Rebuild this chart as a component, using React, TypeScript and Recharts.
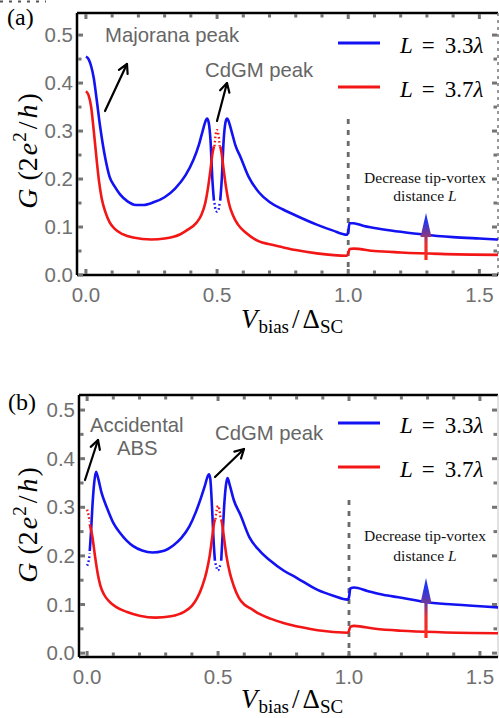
import React from "react";
import { LineChart, Line, XAxis, YAxis, ReferenceLine } from "recharts";

// ---------- tick labels ----------
const xTickValues = [0, 0.1, 0.2, 0.3, 0.4, 0.5, 0.6, 0.7, 0.8, 0.9, 1.0, 1.1, 1.2, 1.3, 1.4, 1.5];
const yTickValues = [0, 0.05, 0.1, 0.15, 0.2, 0.25, 0.3, 0.35, 0.4, 0.45, 0.5];
const seriesLabels = ["3.3", "3.7"];

// ---------- panel (a) : Majorana ----------
const aBlueLeftV = [0, 0.01, 0.02, 0.03, 0.04, 0.054, 0.075, 0.09, 0.11, 0.13, 0.16, 0.19, 0.22, 0.26, 0.3, 0.34, 0.38, 0.41, 0.43, 0.445, 0.457, 0.462, 0.468, 0.475, 0.482, 0.488];
const aBlueLeftG = [0.455, 0.45, 0.435, 0.41, 0.37, 0.31, 0.24, 0.205, 0.184, 0.168, 0.153, 0.146, 0.146, 0.152, 0.162, 0.18, 0.208, 0.24, 0.27, 0.3, 0.322, 0.326, 0.318, 0.28, 0.2, 0.155];
const aBlueDotV = [0.49, 0.494, 0.5, 0.506, 0.51];
const aBlueDotG = [0.15, 0.137, 0.132, 0.137, 0.15];
const aBlueRightV = [0.512, 0.518, 0.525, 0.532, 0.538, 0.543, 0.555, 0.57, 0.59, 0.62, 0.66, 0.7, 0.75, 0.8, 0.88, 0.94, 0.995, 1.0, 1.005, 1.02, 1.06, 1.135, 1.2, 1.29, 1.4, 1.5, 1.571];
const aBlueRightG = [0.155, 0.2, 0.28, 0.318, 0.326, 0.322, 0.3, 0.27, 0.245, 0.205, 0.172, 0.152, 0.137, 0.124, 0.105, 0.093, 0.084, 0.09, 0.108, 0.108, 0.102, 0.095, 0.09, 0.084, 0.079, 0.076, 0.074];

const aRedLeftV = [0, 0.01, 0.02, 0.03, 0.04, 0.05, 0.06, 0.075, 0.09, 0.11, 0.14, 0.18, 0.25, 0.3, 0.36, 0.39, 0.42, 0.44, 0.455, 0.465, 0.475, 0.483, 0.488];
const aRedLeftG = [0.383, 0.375, 0.35, 0.3, 0.245, 0.195, 0.16, 0.13, 0.11, 0.096, 0.085, 0.078, 0.074, 0.076, 0.085, 0.095, 0.108, 0.125, 0.15, 0.18, 0.22, 0.255, 0.268];
const aRedDotV = [0.49, 0.494, 0.5, 0.506, 0.51];
const aRedDotG = [0.268, 0.29, 0.302, 0.29, 0.268];
const aRedRightV = [0.512, 0.517, 0.525, 0.535, 0.545, 0.56, 0.58, 0.61, 0.66, 0.7, 0.75, 0.8, 0.88, 0.995, 1.0, 1.005, 1.02, 1.1, 1.2, 1.35, 1.571];
const aRedRightG = [0.268, 0.255, 0.22, 0.18, 0.15, 0.125, 0.105, 0.088, 0.07, 0.064, 0.058, 0.052, 0.045, 0.04, 0.045, 0.054, 0.055, 0.05, 0.047, 0.044, 0.042];

// ---------- panel (b) : accidental ABS ----------
const bBlueDot1V = [0, 0.006, 0.01];
const bBlueDot1G = [0.18, 0.19, 0.205];
const bBlueLeftV = [0.01, 0.015, 0.02, 0.027, 0.034, 0.042, 0.055, 0.075, 0.1, 0.126, 0.15, 0.176, 0.21, 0.25, 0.29, 0.33, 0.36, 0.39, 0.415, 0.435, 0.45, 0.458, 0.465, 0.47, 0.477, 0.483, 0.488];
const bBlueLeftG = [0.21, 0.25, 0.3, 0.35, 0.373, 0.36, 0.33, 0.3, 0.268, 0.247, 0.232, 0.22, 0.211, 0.207, 0.21, 0.222, 0.237, 0.26, 0.29, 0.32, 0.345, 0.36, 0.368, 0.36, 0.3, 0.23, 0.19];
const bBlueDot2V = [0.49, 0.495, 0.5, 0.505, 0.51];
const bBlueDot2G = [0.185, 0.175, 0.17, 0.175, 0.185];
const bBlueRightV = [0.512, 0.517, 0.523, 0.53, 0.536, 0.545, 0.56, 0.585, 0.62, 0.66, 0.7, 0.75, 0.8, 0.88, 0.94, 0.995, 1.0, 1.005, 1.02, 1.07, 1.13, 1.2, 1.29, 1.4, 1.569];
const bBlueRightG = [0.19, 0.24, 0.3, 0.345, 0.36, 0.345, 0.315, 0.285, 0.238, 0.21, 0.19, 0.17, 0.155, 0.13, 0.118, 0.11, 0.115, 0.133, 0.135, 0.128, 0.12, 0.114, 0.105, 0.1, 0.094];

const bRedDot1V = [0, 0.005, 0.01];
const bRedDot1G = [0.295, 0.285, 0.27];
const bRedLeftV = [0.01, 0.02, 0.03, 0.04, 0.05, 0.065, 0.085, 0.11, 0.15, 0.2, 0.26, 0.32, 0.37, 0.4, 0.42, 0.44, 0.455, 0.468, 0.478, 0.485, 0.488];
const bRedLeftG = [0.265, 0.24, 0.2, 0.165, 0.14, 0.12, 0.106, 0.095, 0.085, 0.077, 0.073, 0.076, 0.085, 0.097, 0.113, 0.138, 0.165, 0.2, 0.24, 0.268, 0.275];
const bRedDot2V = [0.49, 0.495, 0.5, 0.505, 0.51];
const bRedDot2G = [0.275, 0.295, 0.303, 0.295, 0.275];
const bRedRightV = [0.512, 0.515, 0.522, 0.532, 0.545, 0.56, 0.58, 0.6, 0.63, 0.66, 0.7, 0.75, 0.82, 0.88, 0.995, 1.0, 1.005, 1.02, 1.1, 1.2, 1.35, 1.569];
const bRedRightG = [0.275, 0.268, 0.24, 0.2, 0.165, 0.138, 0.113, 0.1, 0.09, 0.08, 0.071, 0.062, 0.053, 0.047, 0.042, 0.046, 0.054, 0.056, 0.05, 0.046, 0.043, 0.041];

const BLUE = "#1212f2";
const RED = "#f21616";
const TICK_GRAY = "#747474";
const SANS = "'Liberation Sans', Arial, Helvetica, sans-serif";
const SERIF = "'Liberation Serif', 'Times New Roman', serif";

type Pt = { v: number; g: number };
const zip = (v: number[], g: number[]): Pt[] => v.map((x, i) => ({ v: x, g: g[i] }));
type Seg = { data: Pt[]; color: string; dotted?: boolean };

function makeXTick(plotTop: number) {
  return (props: any) => {
    const { x, y, payload } = props;
    const v = payload.value as number;
    const major = Math.abs(v * 2 - Math.round(v * 2)) < 1e-6;
    const h = major ? 5 : 3.5;
    return (
      <g>
        <rect x={x - 1.5} y={y - 1 - h} width={3} height={h} fill={TICK_GRAY} />
        <rect x={x - 1.5} y={plotTop + 1} width={3} height={h} fill={TICK_GRAY} />
        {major && (
          <text x={x} y={y + 27} textAnchor="middle" fontFamily={SANS} fontSize={20.5} fill="#707070">
            {v.toFixed(1)}
          </text>
        )}
      </g>
    );
  };
}

function makeYTick(plotRight: number) {
  return (props: any) => {
    const { x, y, payload } = props;
    const v = payload.value as number;
    const major = Math.abs(v * 10 - Math.round(v * 10)) < 1e-6;
    const h = major ? 5 : 3.5;
    return (
      <g>
        <rect x={x + 1} y={y - 1.5} width={h} height={3} fill={TICK_GRAY} />
        <rect x={plotRight - 1 - h} y={y - 1.5} width={h} height={3} fill={TICK_GRAY} />
        {major && (
          <text x={x - 4} y={y + 7} textAnchor="end" fontFamily={SANS} fontSize={20.5} fill="#707070">
            {v.toFixed(1)}
          </text>
        )}
      </g>
    );
  };
}

function Panel(props: {
  top: number;
  height: number;
  plotTop: number;
  plotBottom: number;
  plotLeft: number;
  xDomain: [number, number];
  yDomain: [number, number];
  segs: Seg[];
  vlineTop: number;
  rightDashed: boolean;
}) {
  const { top, height, plotTop, plotBottom, plotLeft, xDomain, yDomain, segs, vlineTop, rightDashed } = props;
  const plotRight = 498;
  return (
    <div style={{ position: "absolute", left: 0, top, width: 499, height }}>
      <LineChart width={499} height={height} margin={{ top: plotTop, right: 499 - plotRight, bottom: 0, left: 0 }}>
        <XAxis
          dataKey="v"
          type="number"
          domain={xDomain}
          allowDataOverflow
          ticks={xTickValues}
          interval={0}
          tickSize={0}
          tickMargin={0}
          tickLine={false}
          axisLine={{ stroke: "#000", strokeWidth: 2.5 }}
          height={height - plotBottom}
          tick={makeXTick(plotTop)}
        />
        <YAxis
          type="number"
          domain={yDomain}
          allowDataOverflow
          ticks={yTickValues}
          interval={0}
          tickSize={0}
          tickMargin={0}
          tickLine={false}
          axisLine={{ stroke: "#000", strokeWidth: 2.5 }}
          width={plotLeft}
          tick={makeYTick(plotRight)}
        />
        <ReferenceLine y={yDomain[1]} stroke="#000" strokeWidth={2.5} />
        <ReferenceLine
          x={xDomain[1]}
          stroke={rightDashed ? "#777" : "#c4c4c4"}
          strokeWidth={rightDashed ? 1.5 : 1}
          strokeDasharray={rightDashed ? "3 4" : undefined}
        />
        <ReferenceLine
          segment={[
            { x: 1, y: vlineTop },
            { x: 1, y: yDomain[0] },
          ]}
          stroke="#6a6a6a"
          strokeWidth={2.8}
          strokeDasharray="5 6"
        />
        {segs.map((s, i) => (
          <Line
            key={i}
            data={s.data}
            dataKey="g"
            type="monotone"
            stroke={s.color}
            strokeWidth={s.dotted ? 2.4 : 2.6}
            strokeDasharray={s.dotted ? "1.6 2.4" : undefined}
            dot={false}
            activeDot={false}
            isAnimationActive={false}
          />
        ))}
      </LineChart>
    </div>
  );
}

function Arrow({ x1, y1, x2, y2 }: { x1: number; y1: number; x2: number; y2: number }) {
  const ang = Math.atan2(y2 - y1, x2 - x1);
  const L = 10;
  const a = 0.5;
  const p1 = `${x2 - L * Math.cos(ang - a)},${y2 - L * Math.sin(ang - a)}`;
  const p2 = `${x2 - L * Math.cos(ang + a)},${y2 - L * Math.sin(ang + a)}`;
  return (
    <g stroke="#000" strokeWidth={2.2} fill="none" strokeLinecap="round" strokeLinejoin="round">
      <line x1={x1} y1={y1} x2={x2} y2={y2} />
      <polyline points={`${p1} ${x2},${y2} ${p2}`} />
    </g>
  );
}

function GradArrow({ id, x, tip, base, bottom }: { id: string; x: number; tip: number; base: number; bottom: number }) {
  return (
    <g>
      <defs>
        <linearGradient id={id} gradientUnits="userSpaceOnUse" x1={0} y1={bottom} x2={0} y2={tip}>
          <stop offset="0" stopColor="#ff2a1a" />
          <stop offset="0.35" stopColor="#e8302e" />
          <stop offset="0.55" stopColor="#7a3a8c" />
          <stop offset="0.8" stopColor="#2a36e8" />
          <stop offset="1" stopColor="#1830ff" />
        </linearGradient>
      </defs>
      <rect x={x - 1.6} y={base - 1} width={3.2} height={bottom - base + 1} fill={`url(#${id})`} />
      <polygon points={`${x},${tip} ${x - 5.5},${base} ${x + 5.5},${base}`} fill={`url(#${id})`} />
    </g>
  );
}

function LegendEntry({ y, color, val }: { y: number; color: string; val: string }) {
  return (
    <g>
      <line x1={338} x2={380} y1={y} y2={y} stroke={color} strokeWidth={3} />
      <text x={400} y={y + 10} fontFamily={SERIF} fontSize={23} fill="#000">
        <tspan fontStyle="italic">L</tspan>
        <tspan dx={9}>=</tspan>
        <tspan dx={10}>{val}</tspan>
        <tspan fontStyle="italic">λ</tspan>
      </text>
    </g>
  );
}

function YLabel({ cx, cy }: { cx: number; cy: number }) {
  return (
    <text transform={`translate(${cx},${cy}) rotate(-90)`} textAnchor="middle" fontFamily={SERIF} fontSize={28} fill="#000">
      <tspan fontStyle="italic">G</tspan>
      <tspan dx={8}>(2</tspan>
      <tspan fontStyle="italic" dx={2}>e</tspan>
      <tspan fontSize={19} dy={-11} dx={1}>2</tspan>
      <tspan dy={11} dx={3}>/</tspan>
      <tspan fontStyle="italic" dx={3}>h</tspan>
      <tspan dx={2}>)</tspan>
    </text>
  );
}

function XLabel({ cx, y }: { cx: number; y: number }) {
  return (
    <text x={cx} y={y} textAnchor="middle" fontFamily={SERIF} fontSize={27} fill="#000">
      <tspan fontStyle="italic">V</tspan>
      <tspan fontSize={19} dy={5} dx={1}>bias</tspan>
      <tspan dy={-5} dx={3}>/</tspan>
      <tspan dx={3}>Δ</tspan>
      <tspan fontSize={19} dy={5}>SC</tspan>
    </text>
  );
}

export default function App() {
  const segsA: Seg[] = [
    { data: zip(aBlueLeftV, aBlueLeftG), color: BLUE },
    { data: zip(aBlueDotV, aBlueDotG), color: BLUE, dotted: true },
    { data: zip(aBlueRightV, aBlueRightG), color: BLUE },
    { data: zip(aRedLeftV, aRedLeftG), color: RED },
    { data: zip(aRedDotV, aRedDotG), color: RED, dotted: true },
    { data: zip(aRedRightV, aRedRightG), color: RED },
  ];
  const segsB: Seg[] = [
    { data: zip(bBlueDot1V, bBlueDot1G), color: BLUE, dotted: true },
    { data: zip(bBlueLeftV, bBlueLeftG), color: BLUE },
    { data: zip(bBlueDot2V, bBlueDot2G), color: BLUE, dotted: true },
    { data: zip(bBlueRightV, bBlueRightG), color: BLUE },
    { data: zip(bRedDot1V, bRedDot1G), color: RED, dotted: true },
    { data: zip(bRedLeftV, bRedLeftG), color: RED },
    { data: zip(bRedDot2V, bRedDot2G), color: RED, dotted: true },
    { data: zip(bRedRightV, bRedRightG), color: RED },
  ];

  return (
    <div style={{ position: "absolute", left: 0, top: 0, width: 499, height: 718, background: "#fff", overflow: "hidden" }}>
      <Panel
        top={0}
        height={359}
        plotTop={13}
        plotBottom={275}
        plotLeft={77}
        xDomain={[-0.034, 1.571]}
        yDomain={[0, 0.546]}
        segs={segsA}
        vlineTop={0.325}
        rightDashed={true}
      />
      <Panel
        top={359}
        height={359}
        plotTop={36}
        plotBottom={298}
        plotLeft={79}
        xDomain={[-0.031, 1.569]}
        yDomain={[-0.008, 0.531]}
        segs={segsB}
        vlineTop={0.315}
        rightDashed={false}
      />
      <svg width={499} height={718} style={{ position: "absolute", left: 0, top: 0, pointerEvents: "none" }}>
        {/* stray dotted rule at the top-left corner */}
        <line x1={0} y1={1.5} x2={46} y2={1.5} stroke="#555" strokeWidth={2} strokeDasharray="3 6" />

        {/* panel (a) */}
        <text x={7} y={25} fontFamily={SERIF} fontSize={24} fill="#000">(a)</text>
        <YLabel cx={37} cy={151} />
        <XLabel cx={292} y={328} />
        <text x={105} y={42} fontFamily={SANS} fontSize={20.3} fill="#666">Majorana peak</text>
        <Arrow x1={105} y1={111} x2={127} y2={64} />
        <text x={205} y={77} fontFamily={SANS} fontSize={20.3} fill="#666">CdGM peak</text>
        <Arrow x1={217} y1={121} x2={227} y2={83} />
        <LegendEntry y={43} color={BLUE} val={seriesLabels[0]} />
        <LegendEntry y={87} color={RED} val={seriesLabels[1]} />
        <text x={425} y={183} textAnchor="middle" fontFamily={SERIF} fontSize={15.5} fill="#111">Decrease tip-vortex</text>
        <text x={425} y={201} textAnchor="middle" fontFamily={SERIF} fontSize={15.5} fill="#111">
          distance <tspan fontStyle="italic">L</tspan>
        </text>
        <GradArrow id="gA" x={426} tip={213} base={237} bottom={260} />

        {/* panel (b) */}
        <text x={8} y={410} fontFamily={SERIF} fontSize={24} fill="#000">(b)</text>
        <YLabel cx={37} cy={525} />
        <XLabel cx={292} y={708} />
        <text x={90} y={432} fontFamily={SANS} fontSize={20.3} fill="#666">Accidental</text>
        <text x={117} y={455} fontFamily={SANS} fontSize={20.3} fill="#666">ABS</text>
        <Arrow x1={85} y1={480} x2={98} y2={440} />
        <text x={215} y={440} fontFamily={SANS} fontSize={20.3} fill="#666">CdGM peak</text>
        <Arrow x1={215} y1={477} x2={244} y2={449} />
        <LegendEntry y={423} color={BLUE} val={seriesLabels[0]} />
        <LegendEntry y={467} color={RED} val={seriesLabels[1]} />
        <text x={425} y={541} textAnchor="middle" fontFamily={SERIF} fontSize={15.5} fill="#111">Decrease tip-vortex</text>
        <text x={425} y={561} textAnchor="middle" fontFamily={SERIF} fontSize={15.5} fill="#111">
          distance <tspan fontStyle="italic">L</tspan>
        </text>
        <GradArrow id="gB" x={426} tip={578} base={603} bottom={638} />
      </svg>
    </div>
  );
}
